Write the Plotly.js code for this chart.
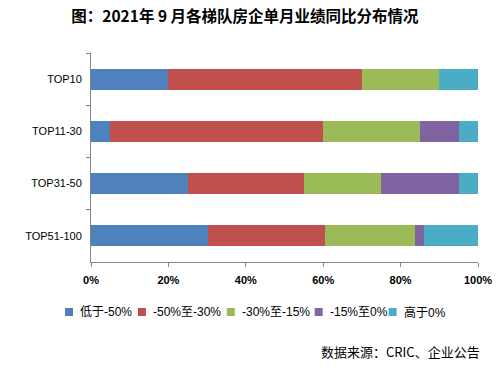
<!DOCTYPE html>
<html><head><meta charset="utf-8">
<script src="https://cdn.plot.ly/plotly-3.0.1.min.js"></script>
<style>html,body{margin:0;padding:0;background:#fff}#chart{width:504px;height:371px}</style>
</head><body><div id="chart"></div>
<script>
const categories = ["TOP10", "TOP11-30", "TOP31-50", "TOP51-100"];
const seriesNames = ["低于-50%", "-50%至-30%", "-30%至-15%", "-15%至0%", "高于0%"];
const below50 = [20, 5, 25, 30.2];
const m50to30 = [50, 55, 30, 30.2];
const m30to15 = [20, 25, 20, 23.3];
const m15to0 = [0, 10, 20, 2.3];
const above0 = [10, 5, 5, 14.0];
const xTickVals = [0, 20, 40, 60, 80, 100];
const xTickText = ["0%", "20%", "40%", "60%", "80%", "100%"];

const colors = ["#4F81BD", "#C0504D", "#9BBB59", "#8064A2", "#4BACC6"];
const seriesValues = [below50, m50to30, m30to15, m15to0, above0];
const font = "Liberation Sans, Noto Sans CJK SC, sans-serif";

const traces = seriesValues.map((vals, i) => ({
  type: "bar", orientation: "h",
  name: seriesNames[i], x: vals, y: categories,
  marker: {color: colors[i], line: {width: 0}},
  hoverinfo: "x+name"
}));

// plot area in pixels (for placing legend/source in paper coords)
const L = 91, R = 478.5, T = 53, B = 262;
const px = v => (v - L) / (R - L);
const py = v => (B - v) / (B - T);

// legend swatch left edges (pixels)
const legendX = [65, 138, 227, 315, 389];
const legendY = 312;
const shapes = [], annotations = [];
seriesNames.forEach((n, i) => {
  shapes.push({type: "rect", xref: "paper", yref: "paper",
    x0: px(legendX[i]), x1: px(legendX[i] + 8), y0: py(legendY + 4), y1: py(legendY - 4),
    fillcolor: colors[i], line: {width: 0}, layer: "above"});
  annotations.push({text: n, xref: "paper", yref: "paper",
    x: px(legendX[i] + 13), xanchor: "left", y: py(legendY), yanchor: "middle",
    showarrow: false, font: {family: font, size: 12, color: "#000"}});
});
annotations.push({text: "数据来源：CRIC、企业公告", xref: "paper", yref: "paper",
  x: px(483), xanchor: "right", y: py(351), yanchor: "middle",
  showarrow: false, font: {family: "Noto Sans CJK SC, sans-serif", size: 13, color: "#000"}});

const layout = {
  width: 504, height: 371,
  margin: {l: L, r: 504 - R, t: T, b: 371 - B},
  paper_bgcolor: "#fff", plot_bgcolor: "#fff",
  barmode: "stack", bargap: 0.6,
  font: {family: font, size: 11, color: "#000"},
  title: {text: "<b>图：2021年 9 月各梯队房企单月业绩同比分布情况</b>",
          font: {family: "Noto Sans CJK SC, sans-serif", size: 15.5, color: "#000"},
          x: 0.486, xanchor: "center", y: 0.954, yanchor: "middle"},
  xaxis: {range: [0, 100], tickvals: xTickVals, ticktext: xTickText,
          showgrid: false, zeroline: false, showline: true, linecolor: "#868686", linewidth: 1,
          ticks: "outside", ticklen: 4, tickcolor: "#868686", ticklabelstandoff: 4,
          tickfont: {family: font, size: 11, color: "#000", weight: "bold"}, fixedrange: true},
  yaxis: {autorange: "reversed", showgrid: false, zeroline: false,
          showline: true, linecolor: "#868686", linewidth: 1,
          ticks: "outside", tickson: "boundaries", ticklen: 4, tickcolor: "#868686",
          ticklabelstandoff: 6,
          tickfont: {family: font, size: 11, color: "#000"}, fixedrange: true},
  showlegend: false,
  shapes: shapes,
  annotations: annotations
};

Plotly.newPlot("chart", traces, layout, {displayModeBar: false, staticPlot: true});
</script></body></html>
